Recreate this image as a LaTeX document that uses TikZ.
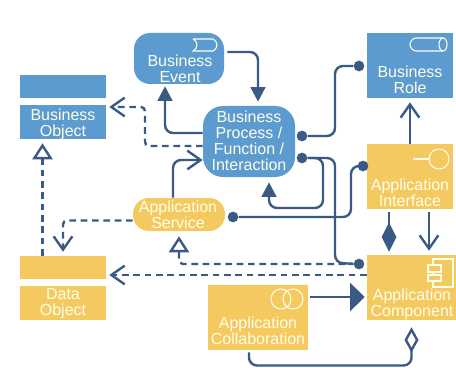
\documentclass[tikz,border=0pt]{standalone}
\usepackage{fontspec}
\setmainfont{Liberation Sans}
\usetikzlibrary{arrows.meta,calc}

\definecolor{bizblue}{HTML}{5B9BCF}
\definecolor{appyellow}{HTML}{F4CA60}
\definecolor{linkblue}{HTML}{3A5A84}

\tikzset{
    bizbox/.style={fill=bizblue, inner sep=0pt},
    appbox/.style={fill=appyellow, inner sep=0pt},
    boxlabel/.style={text=white!92!yellow, align=center, inner sep=0pt, font=\fontsize{12}{12}\selectfont},
    icon/.style={draw=white!92!yellow, line width=0.8pt},
    link/.style={draw=linkblue, line width=1.8pt, rounded corners=6pt},
    dashlink/.style={link, dash pattern=on 5pt off 3.5pt, rounded corners=3pt},
    ball/.style={fill=linkblue, circle, inner sep=0pt, minimum size=8pt},
    tobarb/.style={-{Straight Barb[length=10pt,width=14pt,line width=1.8pt]}},
    toopen/.style={-{Triangle[open,length=12pt,width=15pt,line width=1.8pt]}},
    tofill/.style={-{Triangle[length=11pt,width=11pt]}},
    tobig/.style={-{Triangle[length=11pt,width=21pt]}},
    todiamond/.style={-{Diamond[length=22pt,width=11pt]}},
    toopendiamond/.style={-{Diamond[open,length=19pt,width=10.5pt,line width=1.8pt]}}
}

\begin{document}
\begin{tikzpicture}[x=0.75pt,y=-0.75pt]
    \useasboundingbox (0,0) rectangle (456,367);

    \node[bizbox, minimum width=64.5pt, minimum height=17.25pt] (objectbar) at (63,86.5) {};
    \node[bizbox, minimum width=64.5pt, minimum height=25.5pt] (object) at (63,122) {};
    \node[bizbox, minimum width=67.5pt, minimum height=38.25pt, rounded corners=12pt] (event) at (179,58.5) {};
    \node[bizbox, minimum width=69pt, minimum height=53.25pt, rounded corners=15pt] (process) at (249,141.5) {};
    \node[bizbox, minimum width=64.5pt, minimum height=48.75pt] (role) at (410,65.5) {};

    \node[appbox, minimum width=64.5pt, minimum height=48.75pt] (iface) at (410,176.5) {};
    \node[appbox, minimum width=69pt, minimum height=24.75pt, rounded corners=12pt] (service) at (179,214.5) {};
    \node[appbox, minimum width=64.5pt, minimum height=17.25pt] (databar) at (63,267.5) {};
    \node[appbox, minimum width=64.5pt, minimum height=25.5pt] (data) at (63,303) {};
    \node[appbox, minimum width=75pt, minimum height=48.75pt] (collab) at (258,317.5) {};
    \node[appbox, minimum width=66.75pt, minimum height=48.75pt] (comp) at (411.5,287.5) {};

    \node[boxlabel] (objectlabel) at (63,124.5) {Business\\Object};
    \node[boxlabel] (eventlabel) at (180,69) {Business\\Event};
    \node[boxlabel] (processlabel) at (249,141) {Business\\Process /\\Function /\\Interaction};
    \node[boxlabel] (rolelabel) at (410,80) {Business\\Role};
    \node[boxlabel] (ifacelabel) at (410,193) {Application\\Interface};
    \node[boxlabel] (servicelabel) at (178,215) {Application\\Service};
    \node[boxlabel] (datalabel) at (63,303.5) {Data\\Object};
    \node[boxlabel] (collablabel) at (258,331) {Application\\Collaboration};
    \node[boxlabel] (complabel) at (412,304) {Application\\Component};

    \draw[icon] (193,39) -- (213,39) .. controls (216,41) and (217,43) .. (217,45) .. controls (217,47) and (216,49) .. (213,51) -- (193,51) .. controls (196,49) and (197,47) .. (197,45) .. controls (197,43) and (196,41) .. (193,39);
    \draw[icon, rounded corners=5pt] (443,38) -- (410,38) -- (410,51) -- (443,51);
    \draw[icon] (443,44.5) ellipse (3pt and 4.9pt);
    \draw[icon] (413,159) -- (429,159);
    \draw[icon] (439,159) circle (7.5pt);
    \draw[icon] (433,259) rectangle (453,287);
    \draw[icon, fill=appyellow] (428,265) rectangle (441,272);
    \draw[icon, fill=appyellow] (428,275) rectangle (441,281);
    \draw[icon] (281,299) circle (7.5pt);
    \draw[icon] (293,299) circle (7.5pt);

    \node[ball] (procball) at (302,136) {};
    \node[ball] (procballb) at (302,158) {};
    \node[ball] (roleball) at (359,66) {};
    \node[ball] (ifaceball) at (363,166) {};
    \node[ball] (svcball) at (233,217) {};
    \node[ball] (compball) at (359,264) {};

    \draw[link, tofill] ($(event.east)+(3,-6.5)$) -| ($(process.north)+(9,-4)$);
    \draw[link, tofill] ($(process.west)+(0,-8.5)$) -| ($(event.south)+(-14,2)$);
    \draw[link, tobarb] ($(service.north)+(-6,0)$) |- ($(process.west)+(0,18.5)$);
    \draw[link] (procball) -- (335,136) -- (335,66) -- (roleball);
    \draw[link, tofill] (procballb) -- (323,158) -- (323,208) -- (269,208) -- ($(process.south)+(20,5)$);
    \draw[link] (procballb) -- (335,158) -- (335,263) -- (compball);
    \draw[link] (svcball) -- (351,217) -- (351,166) -- (ifaceball);
    \draw[link, tobarb] (iface.north) -- ($(role.south)+(0,4)$);
    \draw[link, todiamond] ($(iface.south)+(-21,3)$) -- ($(comp.north)+(-22.5,-3)$);
    \draw[link, tobarb] ($(iface.south)+(19,3)$) -- ($(comp.north)+(17.5,-4)$);
    \draw[link, tobig] ($(collab.east)+(2,-20.5)$) -- ($(comp.west)+(-2,9.5)$);
    \draw[link, toopendiamond] ($(collab.south)+(-9,2)$) -- (249,365.5) -- (411.5,365.5) -- ($(comp.south)+(0,7)$);

    \draw[dashlink, tobarb] ($(process.west)+(0,4.5)$) -- (145,146) -- (145,107) -- ($(object.east)+(3,-15)$);
    \draw[dashlink, toopen] ($(databar.north)+(-20.5,0)$) -- ($(object.south)+(-20.5,4)$);
    \draw[dashlink, tobarb] ($(service.west)+(0,6)$) -| ($(databar.north)+(0,-4)$);
    \draw[dashlink, tobarb] ($(comp.west)+(0,-12.5)$) -- ($(databar.east)+(3,7.5)$);
    \draw[dashlink, toopen, dash phase=2.5pt] (compball) -| ($(service.south)+(0,5)$);
\end{tikzpicture}
\end{document}
